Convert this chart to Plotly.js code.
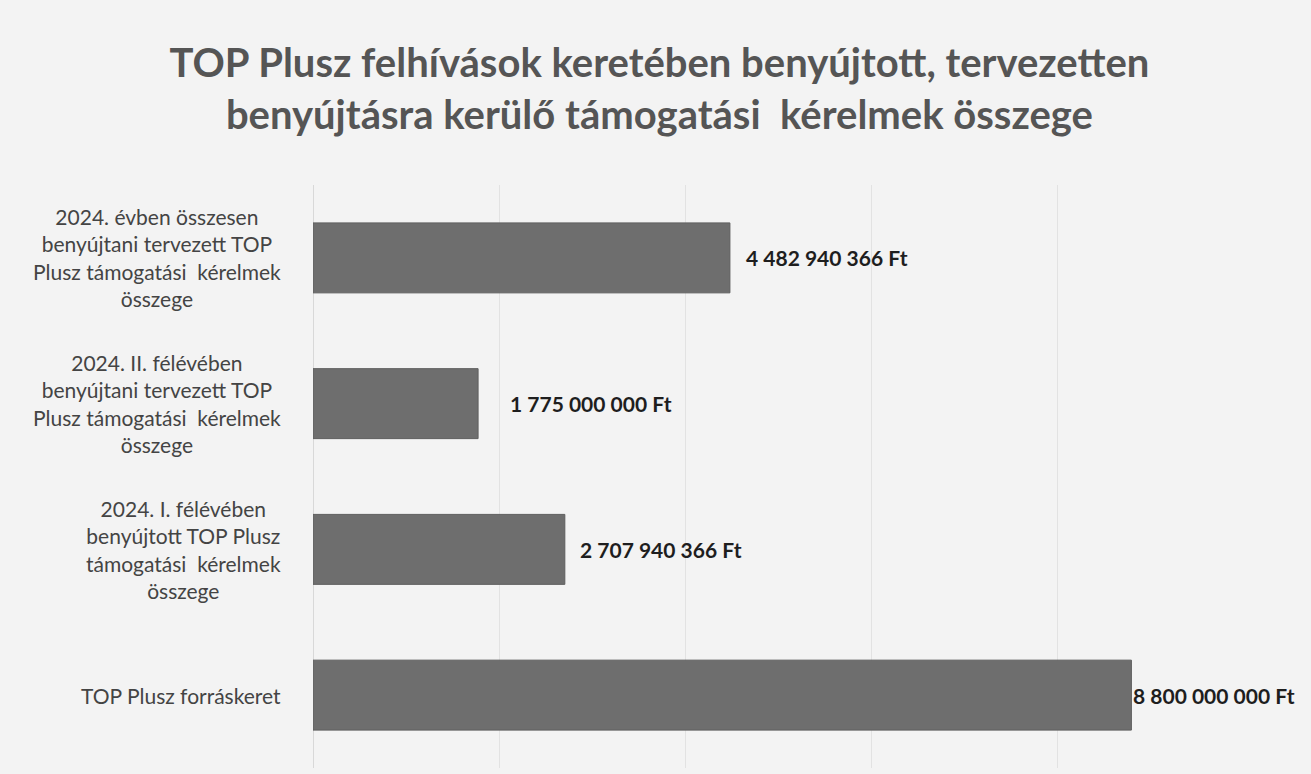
<!DOCTYPE html>
<html>
<head>
<meta charset="utf-8">
<script src="https://cdn.plot.ly/plotly-3.0.1.min.js"></script>
<style>
  html, body { margin: 0; padding: 0; background: #ffffff; }
  #chart { width: 1311px; height: 774px; }
</style>
</head>
<body>
<div id="chart"></div>
<script>
// Categories listed bottom-to-top (as in the original chart)
const categories = [
  "TOP Plusz forráskeret",
  "2024. I. félévében<br>benyújtott TOP Plusz<br>támogatási\u00a0 kérelmek<br>összege",
  "2024. II. félévében<br>benyújtani tervezett TOP<br>Plusz támogatási\u00a0 kérelmek<br>összege",
  "2024. évben összesen<br>benyújtani tervezett TOP<br>Plusz támogatási\u00a0 kérelmek<br>összege"
];
const values = [8800000000, 2707940366, 1775000000, 4482940366];
const titleText = "TOP Plusz felhívások keretében benyújtott, tervezetten<br>benyújtásra kerülő támogatási\u00a0 kérelmek összege";
const xTicks = [0, 2000000000, 4000000000, 6000000000, 8000000000, 10000000000];

// style: horizontal gap (px) between each bar end and its value label
const labelGap = [0, 13, 30, 14];

const fmt = v => Math.round(v).toString().replace(/\B(?=(\d{3})+(?!\d))/g, " ") + " Ft";

const trace = {
  type: "bar",
  orientation: "h",
  y: categories,
  x: values,
  marker: { color: "#6e6e6e", line: { color: "#5e5e5e", width: 1 } },
  hoverinfo: "skip"
};

const labelAnnotations = categories.map(c => ({
  xref: "paper", yref: "y",
  x: 0, y: c,
  xanchor: "right", yanchor: "middle",
  xshift: -30,
  align: "center",
  text: c,
  showarrow: false,
  font: { family: "Lato, 'Open Sans', sans-serif", size: 21, color: "#444444" }
}));

const valueAnnotations = values.map((v, i) => ({
  xref: "x", yref: "y",
  x: v, y: categories[i],
  xanchor: "left", yanchor: "middle",
  xshift: labelGap[i],
  text: fmt(v),
  showarrow: false,
  font: { family: "Lato, 'Open Sans', sans-serif", size: 21, color: "#1e1e1e", weight: "bold" }
}));

const layout = {
  width: 1311, height: 774,
  paper_bgcolor: "#f3f3f3",
  plot_bgcolor: "#f3f3f3",
  margin: { l: 313, r: 68, t: 185, b: 6 },
  bargap: 0.52,
  showlegend: false,
  title: {
    text: titleText,
    x: 0.503, xanchor: "center",
    yref: "container",
    y: 0.90, yanchor: "top",
    font: { family: "Lato, sans-serif", size: 40, color: "#555555", weight: "bold" }
  },
  xaxis: {
    range: [0, 10000000000],
    tickvals: xTicks,
    showticklabels: false,
    showgrid: true,
    gridcolor: "#e2e2e2",
    gridwidth: 1,
    zeroline: true,
    zerolinecolor: "#d8d8d8",
    showline: false,
    fixedrange: true
  },
  yaxis: {
    showticklabels: false,
    showgrid: false,
    zeroline: false,
    showline: false,
    fixedrange: true
  },
  annotations: labelAnnotations.concat(valueAnnotations)
};

Plotly.newPlot("chart", [trace], layout, { displayModeBar: false, staticPlot: true });
</script>
</body>
</html>
